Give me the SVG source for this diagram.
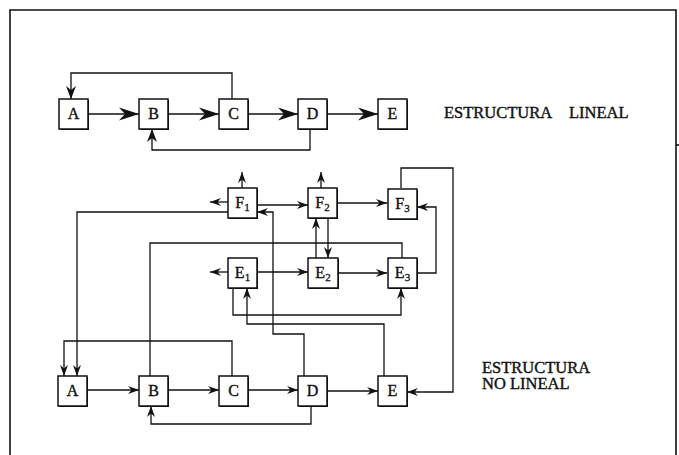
<svg xmlns="http://www.w3.org/2000/svg" width="679" height="455" viewBox="0 0 679 455">
<style>
.frame{fill:none;stroke:#111;stroke-width:1.6}
.box{fill:#fff;stroke:#111;stroke-width:1.5}
.sh{fill:#111}
.lbl{font-family:"Liberation Serif",serif;font-size:16px;fill:#111;stroke:#111;stroke-width:0.4;text-anchor:middle}
.sub{font-size:11px;stroke-width:0.3}
.title{font-family:"Liberation Serif",serif;font-size:16.5px;fill:#111;stroke:#111;stroke-width:0.4}
.c{fill:none;stroke:#111;stroke-width:1.3}
.cb{fill:none;stroke:#111;stroke-width:1.6}
</style>
<defs>
<marker id="big" viewBox="-21 -7 22 14" markerWidth="22" markerHeight="14" refX="0" refY="0" orient="auto" markerUnits="userSpaceOnUse"><path d="M0,0 L-20,-6.5 L-14,0 L-20,6.5 Z" fill="#111"/></marker>
<marker id="mid" viewBox="-14 -6 15 12" markerWidth="15" markerHeight="12" refX="0" refY="0" orient="auto" markerUnits="userSpaceOnUse"><path d="M0,0 L-13,-5 L-9,0 L-13,5 Z" fill="#111"/></marker>
<marker id="sm" viewBox="-12 -5 13 10" markerWidth="13" markerHeight="10" refX="0" refY="0" orient="auto" markerUnits="userSpaceOnUse"><path d="M0,0 L-11,-4 L-7.5,0 L-11,4 Z" fill="#111"/></marker>
</defs>
<rect width="679" height="455" fill="#fff"/>
<path class="frame" d="M10,456 V10 H676 V456"/>
<path class="frame" d="M676,145 H679" stroke-width="1"/>

<g id="connectors">
<!-- linear structure -->
<path class="cb" d="M88,114 H139" marker-end="url(#big)"/>
<path class="cb" d="M168,114 H219" marker-end="url(#big)"/>
<path class="cb" d="M248,114 H298" marker-end="url(#big)"/>
<path class="cb" d="M327,114 H378" marker-end="url(#big)"/>
<path class="c" d="M232,99 V73 H71 V99" marker-end="url(#mid)"/>
<path class="c" d="M310,129 V150 H152 V129" marker-end="url(#mid)"/>
<!-- non-linear structure -->
<path class="c" d="M88,390 H139" marker-end="url(#sm)"/>
<path class="c" d="M168,390 H219" marker-end="url(#sm)"/>
<path class="c" d="M248,390 H298" marker-end="url(#sm)"/>
<path class="c" d="M328,391 H378" marker-end="url(#sm)"/>
<path class="c" d="M311,406 V424 H151 V406" marker-end="url(#sm)"/>
<path class="c" d="M232,376 V341 H64 V376" marker-end="url(#sm)"/>
<path class="c" d="M228,212 H77 V376" marker-end="url(#sm)"/>
<path class="c" d="M150,376 V243 H402 V258"/>
<path class="c" d="M304,376 V334 H273 V212 H257" marker-end="url(#sm)"/>
<path class="c" d="M384,376 V324 H247 V288" marker-end="url(#sm)"/>
<path class="c" d="M233,288 V315 H401 V288" marker-end="url(#sm)"/>
<path class="c" d="M401,188 V168 H453 V392 H407" marker-end="url(#sm)"/>
<path class="c" d="M417,273 H436 V207 H417" marker-end="url(#sm)"/>
<path class="c" d="M242,188 V172" marker-end="url(#sm)"/>
<path class="c" d="M228,202 H210" marker-end="url(#sm)"/>
<path class="c" d="M257,205 H308" marker-end="url(#sm)"/>
<path class="c" d="M321,188 V172" marker-end="url(#sm)"/>
<path class="c" d="M337,203 H387" marker-end="url(#sm)"/>
<path class="c" d="M316,258 V218" marker-end="url(#sm)"/>
<path class="c" d="M328,218 V258" marker-end="url(#sm)"/>
<path class="c" d="M228,272 H210" marker-end="url(#sm)"/>
<path class="c" d="M257,272 H308" marker-end="url(#sm)"/>
<path class="c" d="M338,273 H387" marker-end="url(#sm)"/>
</g>

<!-- linear row -->
<g id="lA"><rect class="sh" x="60" y="100" width="29" height="30"/><rect class="box" x="59" y="99" width="29" height="30"/><text class="lbl" x="73.5" y="119">A</text></g>
<g id="lB"><rect class="sh" x="140" y="100" width="29" height="30"/><rect class="box" x="139" y="99" width="29" height="30"/><text class="lbl" x="153.5" y="119">B</text></g>
<g id="lC"><rect class="sh" x="220" y="100" width="29" height="30"/><rect class="box" x="219" y="99" width="29" height="30"/><text class="lbl" x="233.5" y="119">C</text></g>
<g id="lD"><rect class="sh" x="299" y="100" width="29" height="30"/><rect class="box" x="298" y="99" width="29" height="30"/><text class="lbl" x="312.5" y="119">D</text></g>
<g id="lE"><rect class="sh" x="379" y="100" width="29" height="30"/><rect class="box" x="378" y="99" width="29" height="30"/><text class="lbl" x="392.5" y="119">E</text></g>
<text class="title" x="444" y="118">ESTRUCTURA <tspan x="569">LINEAL</tspan></text>

<!-- F row -->
<g id="F1"><rect class="sh" x="229" y="189" width="29" height="30"/><rect class="box" x="228" y="188" width="29" height="30"/><text class="lbl" x="242.5" y="208">F<tspan class="sub" dy="3">1</tspan></text></g>
<g id="F2"><rect class="sh" x="309" y="189" width="29" height="30"/><rect class="box" x="308" y="188" width="29" height="30"/><text class="lbl" x="322.5" y="208">F<tspan class="sub" dy="3">2</tspan></text></g>
<g id="F3"><rect class="sh" x="389" y="190" width="29" height="30"/><rect class="box" x="388" y="189" width="29" height="30"/><text class="lbl" x="402.5" y="209">F<tspan class="sub" dy="3">3</tspan></text></g>
<!-- E row -->
<g id="E1"><rect class="sh" x="229" y="259" width="29" height="30"/><rect class="box" x="228" y="258" width="29" height="30"/><text class="lbl" x="242.5" y="278">E<tspan class="sub" dy="3">1</tspan></text></g>
<g id="E2"><rect class="sh" x="309" y="259" width="30" height="30"/><rect class="box" x="308" y="258" width="30" height="30"/><text class="lbl" x="323" y="278">E<tspan class="sub" dy="3">2</tspan></text></g>
<g id="E3"><rect class="sh" x="389" y="259" width="29" height="30"/><rect class="box" x="388" y="258" width="29" height="30"/><text class="lbl" x="402.5" y="278">E<tspan class="sub" dy="3">3</tspan></text></g>

<!-- non-linear bottom row -->
<g id="nA"><rect class="sh" x="59" y="377" width="29" height="30"/><rect class="box" x="58" y="376" width="29" height="30"/><text class="lbl" x="72.5" y="396">A</text></g>
<g id="nB"><rect class="sh" x="140" y="377" width="29" height="30"/><rect class="box" x="139" y="376" width="29" height="30"/><text class="lbl" x="153.5" y="396">B</text></g>
<g id="nC"><rect class="sh" x="220" y="377" width="29" height="30"/><rect class="box" x="219" y="376" width="29" height="30"/><text class="lbl" x="233.5" y="396">C</text></g>
<g id="nD"><rect class="sh" x="299" y="377" width="29" height="30"/><rect class="box" x="298" y="376" width="29" height="30"/><text class="lbl" x="312.5" y="396">D</text></g>
<g id="nE"><rect class="sh" x="379" y="377" width="29" height="30"/><rect class="box" x="378" y="376" width="29" height="30"/><text class="lbl" x="392.5" y="396">E</text></g>
<text class="title"><tspan x="482" y="373">ESTRUCTURA</tspan><tspan x="482" y="389">NO LINEAL</tspan></text>
</svg>
